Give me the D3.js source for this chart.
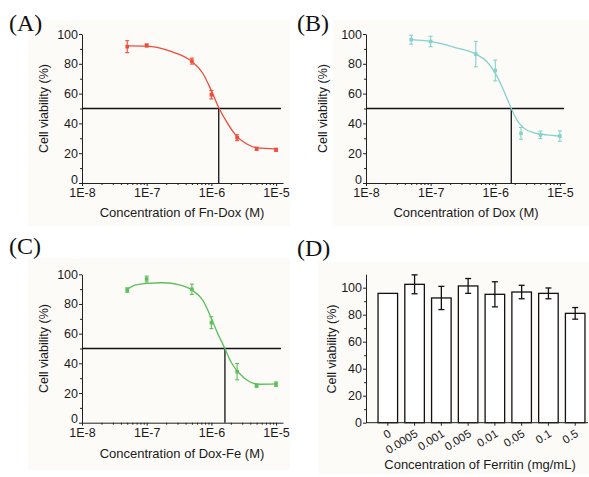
<!DOCTYPE html>
<html>
<head>
<meta charset="utf-8">
<title>Cell viability</title>
<script src="https://d3js.org/d3.v7.min.js"></script>
<style>
	body{margin:0;background:#fff;}
	text{font-family:"Liberation Sans",Arial,sans-serif;fill:#1a1a1a;}
	.axis path,.axis line{stroke:#222;stroke-width:1;}
</style>
</head>
<body>
<svg id="fig" width="589" height="477"></svg>
<script>
// concentrations used in panels A-C (M)
var doseX = [5e-8, 1e-7, 5e-7, 1e-6, 2.5e-6, 5e-6, 1e-5];
var xTickValues = [1e-8, 1e-7, 1e-6, 1e-5];
var xTickLabels = ["1E-8", "1E-7", "1E-6", "1E-5"];
var yTickValues = [0, 20, 40, 60, 80, 100];
var yMinorValues = [10, 30, 50, 70, 90];

// (A) Fn-Dox
var fnDoxMean = [91.5, 92.3, 81.8, 59.2, 30.4, 23.0, 22.3];
var fnDoxErr = [4, 1, 2, 2.8, 2, 1, 1];
var fnDoxCurveX = [5e-8, 1e-7, 2.24e-7, 5e-7, 7.4e-7, 1e-6, 1.32e-6, 1.78e-6, 2.4e-6, 3.47e-6, 5e-6, 1e-5];
var fnDoxCurveY = [92.0, 91.8, 88.6, 81.5, 73.5, 62.0, 50.0, 40.0, 32.0, 26.3, 23.7, 22.8];
var fnDoxIC50 = 1.30e-6;

// (B) Dox
var doxMean = [96.2, 95.0, 86.5, 75.5, 33.3, 32.3, 31.5];
var doxErr = [3, 3.5, 8.5, 7, 4, 2.5, 3.5];
var doxCurveX = [5e-8, 1e-7, 2.26e-7, 4.9e-7, 7.4e-7, 1e-6, 1.27e-6, 1.77e-6, 2.17e-6, 2.75e-6, 3.94e-6, 6.3e-6, 1e-5];
var doxCurveY = [96.2, 95.0, 91.2, 86.7, 81.5, 73.7, 64.7, 50.0, 42.2, 37.0, 33.7, 32.3, 31.5];
var doxIC50 = 1.77e-6;

// (C) Dox-Fe
var doxFeMean = [89.4, 96.8, 89.9, 67.4, 34.4, 24.9, 26.0];
var doxFeErr = [1.5, 2, 3.5, 4, 5.5, 1, 1.5];
var doxFeCurveX = [5e-8, 6.8e-8, 1e-7, 1.8e-7, 3.2e-7, 5e-7, 7.3e-7, 1e-6, 1.25e-6, 1.62e-6, 2e-6, 2.7e-6, 3.9e-6, 5.5e-6, 1e-5];
var doxFeCurveY = [89.9, 92.8, 93.9, 94.3, 92.8, 89.4, 82.7, 70.4, 60.2, 50.0, 41.1, 33.3, 27.6, 25.9, 26.1];
var doxFeIC50 = 1.62e-6;

// (D) Ferritin alone
var ferritinConc = ["0", "0.0005", "0.001", "0.005", "0.01", "0.05", "0.1", "0.5"];
var ferritinMean = [95.8, 102.5, 92.4, 101.3, 95.1, 96.8, 95.8, 81.0];
var ferritinErr = [null, 7, 8.6, 5.5, 9.3, 5, 4, 4.3];

var svg = d3.select("#fig");

// faint cream panel backgrounds like the scanned figure
[[28, 20, 262, 206], [333, 20, 256, 206], [28, 258, 262, 212], [318, 262, 271, 212]].forEach(function(r){
	svg.append("rect").attr("x", r[0]).attr("y", r[1]).attr("width", r[2]).attr("height", r[3]).attr("fill", "#fdfbf8");
});

function panelLetter(txt, x, y){
	svg.append("text").attr("x", x).attr("y", y).text(txt)
		.style("font-family", "'Liberation Serif','Times New Roman',serif")
		.style("font-size", "24px").style("fill", "#111");
}

function yTitle(x, y){
	svg.append("text").attr("transform", "translate(" + x + "," + y + ") rotate(-90)")
		.attr("text-anchor", "middle").attr("dy", "0.35em")
		.style("font-size", "12.5px").text("Cell viability (%)");
}

function dosePanel(p){
	var x = d3.scaleLog().domain(p.xDomain).range(p.xRange);
	var y = d3.scaleLinear().domain([0, 100]).range(p.yRange);
	var g = svg.append("g");

	// minor log ticks 2..9 in each decade
	var minor = [];
	for(var k = -8; k <= -6; k++){
		for(var m = 2; m <= 9; m++){ minor.push(m * Math.pow(10, k)); }
	}
	g.append("g").attr("class", "axis").attr("transform", "translate(0," + p.yRange[0] + ")")
		.call(d3.axisBottom(x).tickValues(minor).tickSize(2).tickFormat(""))
		.select(".domain").remove();
	g.append("g").attr("class", "axis").attr("transform", "translate(0," + p.yRange[0] + ")")
		.call(d3.axisBottom(x).tickValues(xTickValues).tickSize(3).tickSizeOuter(0)
			.tickFormat(function(d, i){ return xTickLabels[i]; }))
		.selectAll("text").style("font-size", "12.5px").attr("dy", "0.71em").attr("y", 5.5);

	g.append("g").attr("class", "axis").attr("transform", "translate(" + p.xRange[0] + ",0)")
		.call(d3.axisLeft(y).tickValues(yMinorValues).tickSize(2).tickFormat(""))
		.select(".domain").remove();
	g.append("g").attr("class", "axis").attr("transform", "translate(" + p.xRange[0] + ",0)")
		.call(d3.axisLeft(y).tickValues(yTickValues).tickSize(3).tickSizeOuter(0))
		.selectAll("text").style("font-size", "12.5px").attr("x", -4)
		.attr("dy", function(d){ return d === 0 ? "0em" : "0.32em"; });

	// 50% line and IC50 drop line
	g.append("line").attr("x1", p.xRange[0]).attr("x2", p.lineEnd)
		.attr("y1", y(50)).attr("y2", y(50)).attr("stroke", "#111").attr("stroke-width", 1.3);
	g.append("line").attr("x1", x(p.ic50)).attr("x2", x(p.ic50))
		.attr("y1", y(50)).attr("y2", y(0)).attr("stroke", "#111").attr("stroke-width", 1.3);

	// fitted curve
	var line = d3.line().curve(d3.curveMonotoneX)
		.x(function(d){ return x(d[0]); }).y(function(d){ return y(d[1]); });
	g.append("path").datum(d3.zip(p.curveX, p.curveY)).attr("d", line)
		.attr("fill", "none").attr("stroke", p.color).attr("stroke-width", 1.3);

	// error bars + markers
	var pts = d3.zip(doseX, p.mean, p.err);
	var eb = g.selectAll(".eb").data(pts).enter().append("g")
		.attr("stroke", p.color).attr("stroke-width", 1.1);
	eb.append("line")
		.attr("x1", function(d){ return x(d[0]); }).attr("x2", function(d){ return x(d[0]); })
		.attr("y1", function(d){ return y(d[1] + d[2]); }).attr("y2", function(d){ return y(d[1] - d[2]); });
	[1, -1].forEach(function(s){
		eb.append("line")
			.attr("x1", function(d){ return x(d[0]) - 2; }).attr("x2", function(d){ return x(d[0]) + 2; })
			.attr("y1", function(d){ return y(d[1] + s * d[2]); }).attr("y2", function(d){ return y(d[1] + s * d[2]); });
	});
	g.selectAll(".pt").data(pts).enter().append("rect")
		.attr("x", function(d){ return x(d[0]) - 1.8; }).attr("y", function(d){ return y(d[1]) - 1.8; })
		.attr("width", 3.6).attr("height", 3.6).attr("fill", p.color);

	yTitle(p.yTitleX, (p.yRange[0] + p.yRange[1]) / 2);
	g.append("text").attr("x", p.xTitle[0]).attr("y", p.xTitle[1]).attr("text-anchor", "middle")
		.style("font-size", "13px").text(p.xLabel);
}

dosePanel({xDomain: [1e-8, 1.28e-5], xRange: [82, 283], yRange: [183, 34], lineEnd: 281,
	color: "#ef4c38", mean: fnDoxMean, err: fnDoxErr, curveX: fnDoxCurveX, curveY: fnDoxCurveY, ic50: fnDoxIC50,
	yTitleX: 44, xTitle: [182, 217], xLabel: "Concentration of Fn-Dox (M)"});
dosePanel({xDomain: [1e-8, 1.2e-5], xRange: [366, 565], yRange: [183, 34], lineEnd: 564,
	color: "#84d2cb", mean: doxMean, err: doxErr, curveX: doxCurveX, curveY: doxCurveY, ic50: doxIC50,
	yTitleX: 323, xTitle: [466, 217], xLabel: "Concentration of Dox (M)"});
dosePanel({xDomain: [1e-8, 1.28e-5], xRange: [82, 283], yRange: [422.7, 274.3], lineEnd: 281,
	color: "#5cbf5a", mean: doxFeMean, err: doxFeErr, curveX: doxFeCurveX, curveY: doxFeCurveY, ic50: doxFeIC50,
	yTitleX: 44, xTitle: [182, 458], xLabel: "Concentration of Dox-Fe (M)"});

// panel D: bar chart
var xb = d3.scaleBand().domain(ferritinConc).range([366, 597]).paddingInner(0.27).paddingOuter(0.45);
var yb = d3.scaleLinear().domain([0, 110]).range([422.7, 274.2]);
var gd = svg.append("g");
var bars = ferritinConc.map(function(c, i){ return {c: c, v: ferritinMean[i], e: ferritinErr[i]}; });

gd.selectAll(".bar").data(bars).enter().append("rect")
	.attr("x", function(d){ return xb(d.c); })
	.attr("y", function(d){ return yb(d.v); })
	.attr("width", xb.bandwidth())
	.attr("height", function(d){ return yb(0) - yb(d.v); })
	.attr("fill", "#fff").attr("stroke", "#111").attr("stroke-width", 1.3);

var ferr = gd.selectAll(".ferr").data(bars.filter(function(d){ return d.e != null; })).enter().append("g")
	.attr("stroke", "#111").attr("stroke-width", 1.3);
ferr.append("line")
	.attr("x1", function(d){ return xb(d.c) + xb.bandwidth() / 2; })
	.attr("x2", function(d){ return xb(d.c) + xb.bandwidth() / 2; })
	.attr("y1", function(d){ return yb(d.v + d.e); })
	.attr("y2", function(d){ return yb(d.v - d.e); });
[1, -1].forEach(function(s){
	ferr.append("line")
		.attr("x1", function(d){ return xb(d.c) + xb.bandwidth() / 2 - 3; })
		.attr("x2", function(d){ return xb(d.c) + xb.bandwidth() / 2 + 3; })
		.attr("y1", function(d){ return yb(d.v + s * d.e); })
		.attr("y2", function(d){ return yb(d.v + s * d.e); });
});

// axes of D
gd.append("line").attr("x1", 366).attr("x2", 588).attr("y1", yb(0)).attr("y2", yb(0))
	.attr("stroke", "#222").attr("stroke-width", 1);
var xax = gd.append("g").attr("class", "axis").attr("transform", "translate(0," + yb(0) + ")")
	.call(d3.axisBottom(xb).tickSize(3));
xax.select(".domain").remove();
xax.selectAll("text").style("font-size", "11.5px").attr("text-anchor", "end")
	.attr("y", 0).attr("dy", 0)
	.attr("transform", "translate(4,13) rotate(-32)");

gd.append("g").attr("class", "axis").attr("transform", "translate(366,0)")
	.call(d3.axisLeft(yb).tickValues([10, 30, 50, 70, 90]).tickSize(2).tickFormat(""))
	.select(".domain").remove();
gd.append("g").attr("class", "axis").attr("transform", "translate(366,0)")
	.call(d3.axisLeft(yb).tickValues(yTickValues).tickSize(3).tickSizeOuter(0))
	.selectAll("text").style("font-size", "12.5px").attr("x", -4);

yTitle(332, 349);
gd.append("text").attr("x", 480).attr("y", 469).attr("text-anchor", "middle")
	.style("font-size", "13px").text("Concentration of Ferritin (mg/mL)");

panelLetter("(A)", 9, 31);
panelLetter("(B)", 297, 31);
panelLetter("(C)", 9, 254);
panelLetter("(D)", 297, 256);
</script>
</body>
</html>
